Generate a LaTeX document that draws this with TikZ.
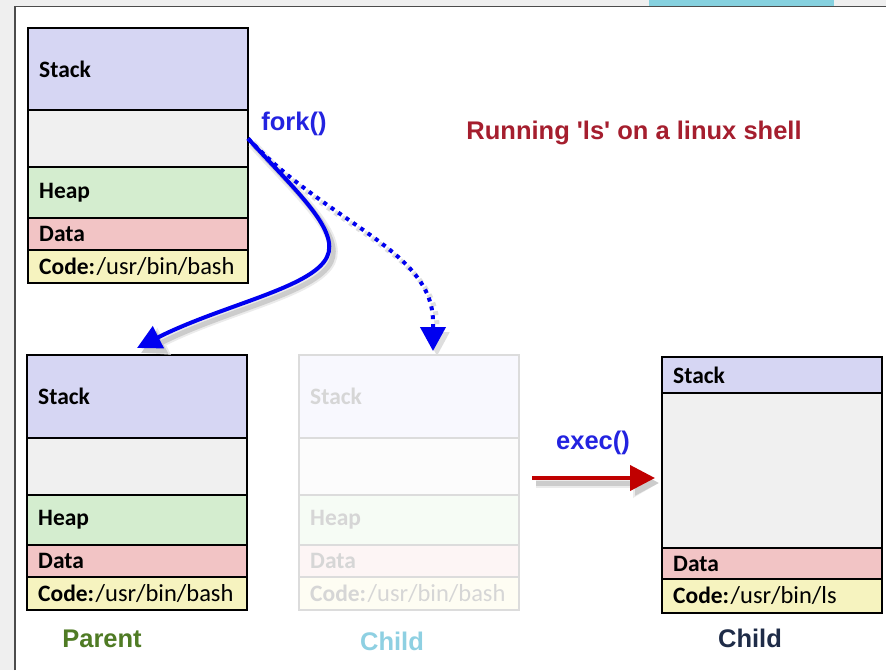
\documentclass[tikz,border=0pt]{standalone}
\usepackage{fontspec}
\setmainfont{Carlito}
\newfontfamily\arialf{Liberation Sans}
\usetikzlibrary{arrows.meta}
\definecolor{stackc}{HTML}{D6D6F3}
\definecolor{blankc}{HTML}{F0F0F0}
\definecolor{heapc}{HTML}{D4EDCF}
\definecolor{datac}{HTML}{F2C4C5}
\definecolor{codec}{HTML}{F6F3BF}
\definecolor{gstack}{HTML}{F8F8FE}
\definecolor{gblank}{HTML}{FCFCFC}
\definecolor{gheap}{HTML}{F6FCF5}
\definecolor{gdata}{HTML}{FDF5F5}
\definecolor{gcode}{HTML}{FEFDF3}
\definecolor{gline}{HTML}{DCDCDC}
\definecolor{gtext}{HTML}{D6D6D6}
\definecolor{forkblue}{HTML}{0000F0}
\definecolor{textblue}{HTML}{2323E0}
\definecolor{execred}{HTML}{C00000}
\definecolor{titlered}{HTML}{A51E2E}
\definecolor{parentgreen}{HTML}{4F7B24}
\definecolor{childlight}{HTML}{8ED0E2}
\definecolor{childdark}{HTML}{1F2C48}
\definecolor{edgegray}{HTML}{EFEFEF}
\definecolor{tabblue}{HTML}{86D1DF}
\newcommand{\codelbl}[1]{{\bfseries Code:}\kern1.5pt{\fontsize{24.5}{24.5}\selectfont #1}}
\begin{document}
\begin{tikzpicture}[x=1pt,y=-1pt,
  cell/.style={draw=black, line width=2.8pt, minimum width=220pt, anchor=north west, inner sep=0pt, outer sep=0pt},
  gcell/.style={cell, draw=gline},
  lbl/.style={anchor=west, inner sep=0pt, font=\fontsize{23.5}{23.5}\selectfont, text=black},
  glbl/.style={lbl, text=gtext},
  head/.style={font=\arialf\bfseries\fontsize{25.5}{25.5}\selectfont, inner sep=0pt},
  forkline/.style={draw=forkblue, line width=4pt, -{Triangle[length=24pt,width=24pt]}},
  forkdots/.style={draw=forkblue, line width=4pt, dash pattern=on 4pt off 5pt, -{Triangle[length=24pt,width=25pt]}},
  execline/.style={draw=execred, line width=4pt, -{Triangle[length=25pt,width=25pt]}},
  shadowA/.style={draw=black!8, line width=9pt, transform canvas={shift={(4pt,-5pt)}}, -{Triangle[length=26pt,width=28pt]}},
  shadowB/.style={draw=black!20, line width=5pt, transform canvas={shift={(4pt,-5pt)}}, -{Triangle[length=24pt,width=24pt]}}
]
\useasboundingbox (0,0) rectangle (886,670);
\fill[white] (0,0) rectangle (886,670);
% window frame
\fill[edgegray] (0,0) rectangle (15,670);
\fill[edgegray] (0,0) rectangle (886,6);
\fill[tabblue] (649,0) rectangle (834,6);
\draw[draw=black!70, line width=1.2pt] (15,670) -- (15,6.5) -- (886,6.5);

% top (original) process
\node[cell, fill=stackc, minimum height=82pt] (Ts) at (28,28) {};
\node[cell, fill=blankc, minimum height=57pt] (Tb) at (28,110) {};
\node[cell, fill=heapc, minimum height=51pt] (Th) at (28,167) {};
\node[cell, fill=datac, minimum height=32pt] (Td) at (28,218) {};
\node[cell, fill=codec, minimum height=33pt] (Tc) at (28,250) {};
\node[lbl] (TsL) at ([xshift=11pt]Ts.west) {\bfseries Stack};
\node[lbl] (ThL) at ([xshift=11pt]Th.west) {\bfseries Heap};
\node[lbl] (TdL) at ([xshift=11pt]Td.west) {\bfseries Data};
\node[lbl] (TcL) at ([xshift=11pt]Tc.west) {\codelbl{/usr/bin/bash}};

% parent
\node[cell, fill=stackc, minimum height=83pt] (Ps) at (27,355) {};
\node[cell, fill=blankc, minimum height=57pt] (Pb) at (27,438) {};
\node[cell, fill=heapc, minimum height=50pt] (Ph) at (27,495) {};
\node[cell, fill=datac, minimum height=32pt] (Pd) at (27,545) {};
\node[cell, fill=codec, minimum height=33pt] (Pc) at (27,577) {};
\node[lbl] (PsL) at ([xshift=11pt]Ps.west) {\bfseries Stack};
\node[lbl] (PhL) at ([xshift=11pt]Ph.west) {\bfseries Heap};
\node[lbl] (PdL) at ([xshift=11pt]Pd.west) {\bfseries Data};
\node[lbl] (PcL) at ([xshift=11pt]Pc.west) {\codelbl{/usr/bin/bash}};

% ghost child (copy after fork)
\node[gcell, fill=gstack, minimum height=83pt] (Gs) at (299,355) {};
\node[gcell, fill=gblank, minimum height=57pt] (Gb) at (299,438) {};
\node[gcell, fill=gheap, minimum height=50pt] (Gh) at (299,495) {};
\node[gcell, fill=gdata, minimum height=32pt] (Gd) at (299,545) {};
\node[gcell, fill=gcode, minimum height=33pt] (Gc) at (299,577) {};
\node[glbl] (GsL) at ([xshift=11pt]Gs.west) {\bfseries Stack};
\node[glbl] (GhL) at ([xshift=11pt]Gh.west) {\bfseries Heap};
\node[glbl] (GdL) at ([xshift=11pt]Gd.west) {\bfseries Data};
\node[glbl] (GcL) at ([xshift=11pt]Gc.west) {\codelbl{/usr/bin/bash}};

% child after exec
\node[cell, fill=stackc, minimum height=36pt] (Cs) at (662,357) {};
\node[cell, fill=blankc, minimum height=155pt] (Cb) at (662,393) {};
\node[cell, fill=datac, minimum height=31pt] (Cd) at (662,548) {};
\node[cell, fill=codec, minimum height=34pt] (Cc) at (662,579) {};
\node[lbl] (CsL) at ([xshift=11pt]Cs.west) {\bfseries Stack};
\node[lbl] (CdL) at ([xshift=11pt]Cd.west) {\bfseries Data};
\node[lbl] (CcL) at ([xshift=11pt]Cc.west) {\codelbl{/usr/bin/ls}};

% texts
\node[head, text=textblue] (fork) at (294,124) {fork()};
\node[head, text=titlered] (title) at (634,133) {Running 'ls' on a linux shell};
\node[head, text=textblue] (exec) at (593,443) {exec()};
\node[head, text=parentgreen] (parent) at (102,639) {Parent};
\node[head, text=childlight] (gchild) at (392,641) {Child};
\node[head, text=childdark] (child) at (750,638) {Child};

% connectors
\coordinate (ptip) at ([yshift=7pt]Ps.north);
\coordinate (gtip) at ([xshift=24pt,yshift=4pt]Gs.north);
\coordinate (execstart) at (532,478);
\coordinate (exectip) at (655,478);

\draw[shadowA] (Tb.east) .. controls (295,190) and (340,230) .. (327,257) .. controls (312,288) and (222,305) .. (ptip);
\draw[shadowB] (Tb.east) .. controls (295,190) and (340,230) .. (327,257) .. controls (312,288) and (222,305) .. (ptip);
\draw[shadowB, dash pattern=on 4pt off 5pt, draw=black!13] (Tb.east) .. controls (330,225) and (433,250) .. (433,322) -- (gtip);
\draw[shadowA] (execstart) -- (exectip);
\draw[shadowB] (execstart) -- (exectip);

\draw[forkdots] (Tb.east) .. controls (330,225) and (433,250) .. (433,322) -- (gtip);
\draw[forkline] (Tb.east) .. controls (295,190) and (340,230) .. (327,257) .. controls (312,288) and (222,305) .. (ptip);
\draw[execline] (execstart) -- (exectip);
\end{tikzpicture}
\end{document}
